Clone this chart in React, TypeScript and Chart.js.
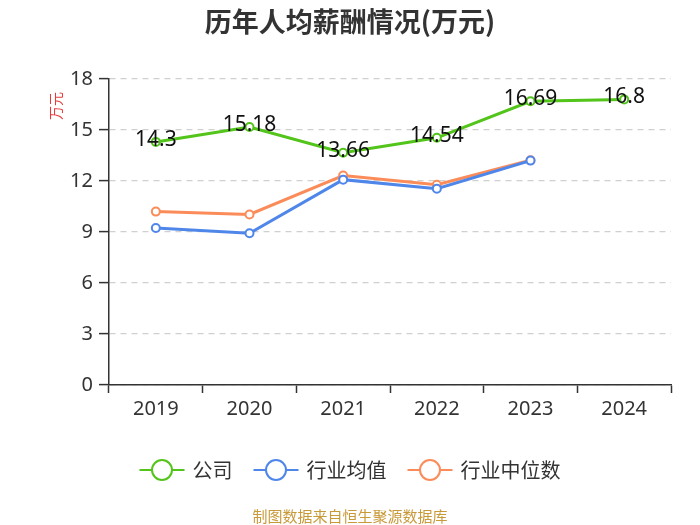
import React, { useEffect, useRef } from "react";
import { Chart, registerables } from "chart.js";

Chart.register(...registerables);

const TITLE = "历年人均薪酬情况(万元)";
const Y_UNIT = "万元";
const SOURCE = "制图数据来自恒生聚源数据库";
const categories = ["2019", "2020", "2021", "2022", "2023", "2024"];
const companyValues = [14.3, 15.18, 13.66, 14.54, 16.69, 16.8];
const industryAvg = [9.24, 8.93, 12.08, 11.55, 13.2, null];
const industryMedian = [10.2, 10.03, 12.32, 11.78, 13.22, null];
const yTicks = [0, 3, 6, 9, 12, 15, 18];
const seriesNames = ["公司", "行业均值", "行业中位数"];
const seriesColors = ["#52c41a", "#4f86ea", "#fb8c5a"];

const FONT = "'Noto Sans', 'Noto Sans CJK SC', sans-serif";
const CJK = "'Noto Sans CJK SC', 'Noto Sans', sans-serif";

const overlayPlugin = {
  id: "overlay",
  afterDatasetsDraw(chart: any) {
    const ctx = chart.ctx;
    const meta = chart.getDatasetMeta(0);
    ctx.save();
    ctx.font = `21px ${FONT}`;
    ctx.fillStyle = "#111";
    ctx.textAlign = "center";
    ctx.textBaseline = "middle";
    meta.data.forEach((pt: any, i: number) => {
      const v = companyValues[i];
      if (v == null) return;
      ctx.fillText(String(v), pt.x, pt.y - 2);
    });
    ctx.restore();
  },
  afterDraw(chart: any) {
    const ctx = chart.ctx;
    const w = chart.width;
    ctx.save();
    ctx.font = `bold 27px ${CJK}`;
    ctx.fillStyle = "#333";
    ctx.textAlign = "center";
    ctx.textBaseline = "middle";
    ctx.fillText(TITLE, w / 2, 22);
    ctx.save();
    ctx.translate(56, 106);
    ctx.rotate(-Math.PI / 2);
    ctx.font = `14px ${CJK}`;
    ctx.fillStyle = "#e8393a";
    ctx.textAlign = "center";
    ctx.textBaseline = "middle";
    ctx.fillText(Y_UNIT, 0, 0);
    ctx.restore();
    ctx.font = `20px ${CJK}`;
    const iconW = 45;
    const gapIconText = 8;
    const gapItems = 21;
    const widths = seriesNames.map((n) => ctx.measureText(n).width);
    const total =
      widths.reduce((a, b) => a + b, 0) +
      seriesNames.length * (iconW + gapIconText) +
      (seriesNames.length - 1) * gapItems;
    let x = w / 2 - total / 2;
    const ly = 470;
    seriesNames.forEach((name, i) => {
      const c = seriesColors[i];
      ctx.strokeStyle = c;
      ctx.lineWidth = 2;
      ctx.beginPath();
      ctx.moveTo(x, ly);
      ctx.lineTo(x + iconW, ly);
      ctx.stroke();
      ctx.beginPath();
      ctx.arc(x + iconW / 2, ly, 10, 0, Math.PI * 2);
      ctx.fillStyle = "#fff";
      ctx.fill();
      ctx.stroke();
      ctx.fillStyle = "#333";
      ctx.textAlign = "left";
      ctx.textBaseline = "middle";
      ctx.fillText(name, x + iconW + gapIconText, ly);
      x += iconW + gapIconText + widths[i] + gapItems;
    });
    ctx.font = `15px ${CJK}`;
    ctx.fillStyle = "#c89a3a";
    ctx.textAlign = "center";
    ctx.fillText(SOURCE, w / 2, 516);
    ctx.restore();
  },
};

function makeDataset(label: string, data: (number | null)[], color: string) {
  return {
    label,
    data,
    borderColor: color,
    backgroundColor: "#fff",
    borderWidth: 3,
    pointRadius: 4,
    pointBorderWidth: 2,
    pointBackgroundColor: "#fff",
    pointBorderColor: color,
    tension: 0,
    spanGaps: false,
  };
}

export default function App() {
  const ref = useRef<HTMLCanvasElement | null>(null);
  useEffect(() => {
    if (!ref.current) return;
    const chart = new Chart(ref.current, {
      type: "line",
      data: {
        labels: categories,
        datasets: [
          makeDataset(seriesNames[0], companyValues, seriesColors[0]),
          makeDataset(seriesNames[1], industryAvg, seriesColors[1]),
          makeDataset(seriesNames[2], industryMedian, seriesColors[2]),
        ],
      },
      options: {
        animation: false,
        responsive: true,
        maintainAspectRatio: false,
        layout: { padding: { left: 0, right: 29, top: 79, bottom: 95 } },
        plugins: {
          legend: { display: false },
          title: { display: false },
          tooltip: { enabled: false },
        },
        scales: {
          x: {
            offset: true,
            afterFit: (s: any) => {
              s.height = 45;
            },
            grid: {
              display: true,
              drawOnChartArea: false,
              offset: true,
              tickLength: 8,
              tickColor: "#333",
              tickWidth: 1.5,
            },
            border: { display: true, color: "#333", width: 1.5 },
            ticks: {
              color: "#333",
              font: { family: FONT, size: 20 },
              padding: 4,
              maxRotation: 0,
            },
          },
          y: {
            min: 0,
            max: 18,
            afterFit: (s: any) => {
              s.width = 109;
            },
            afterBuildTicks: (s: any) => {
              s.ticks = yTicks.map((v) => ({ value: v }));
            },
            grid: {
              color: "#d0d0d0",
              lineWidth: 1.2,
              tickLength: 10,
              tickColor: "#333",
              tickWidth: 1.5,
            },
            border: { display: true, color: "#333", width: 1.5, dash: [6, 5] },
            ticks: {
              color: "#333",
              font: { family: FONT, size: 20 },
              padding: 6,
            },
          },
        },
      },
      plugins: [overlayPlugin],
    } as any);
    return () => chart.destroy();
  }, []);
  return (
    <div style={{ position: "absolute", left: 0, top: 0, width: 700, height: 525, background: "#fff" }}>
      <canvas ref={ref} />
    </div>
  );
}
